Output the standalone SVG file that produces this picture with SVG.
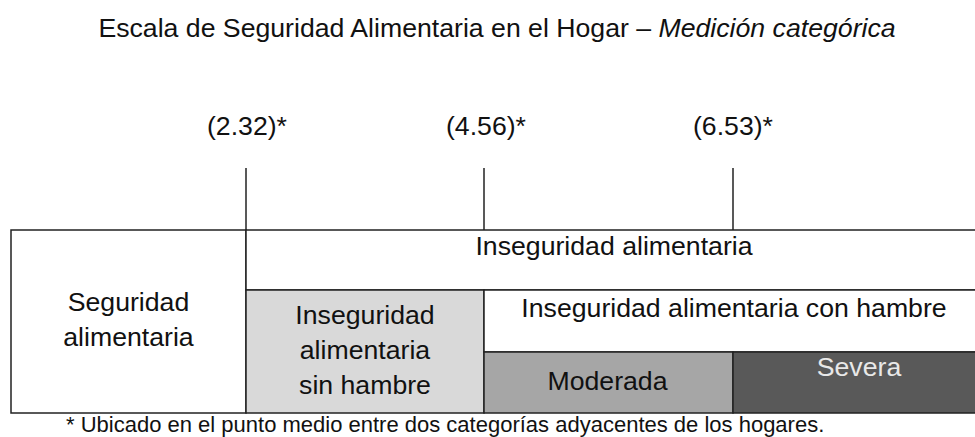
<svg xmlns="http://www.w3.org/2000/svg" width="975" height="437" viewBox="0 0 975 437">
<style>
text{font-family:"Liberation Sans",Arial,sans-serif;font-size:26.67px;fill:#111;text-anchor:middle}
.cell{stroke:#222;stroke-width:1.5}
.tick{stroke:#222;stroke-width:1.5;fill:none}
.foot{font-size:22px;text-anchor:start}
</style>
<rect width="975" height="437" fill="#fff"/>
<g id="title"><text x="497" y="37">Escala de Seguridad Alimentaria en el Hogar – <tspan font-style="italic">Medición categórica</tspan></text></g>
<g id="cutoffs">
<text x="247" y="135">(2.32)*</text>
<text x="486" y="135">(4.56)*</text>
<text x="733" y="135">(6.53)*</text>
</g>
<g id="seguridad">
<rect class="cell" x="11" y="230" width="235" height="183" fill="#fff"/>
<text x="128.5" y="310.5">Seguridad</text>
<text x="128.5" y="345.5">alimentaria</text>
</g>
<g id="inseguridad">
<rect class="cell" x="246" y="230" width="731" height="60" fill="#fff"/>
<text x="614" y="254.5">Inseguridad alimentaria</text>
</g>
<g id="sin-hambre">
<rect class="cell" x="246" y="290" width="238" height="123" fill="#d9d9d9"/>
<text x="365" y="323.5">Inseguridad</text>
<text x="365" y="358.5">alimentaria</text>
<text x="365" y="393.5">sin hambre</text>
</g>
<g id="con-hambre">
<rect class="cell" x="484" y="290" width="493" height="62" fill="#fff"/>
<text x="734" y="316.5">Inseguridad alimentaria con hambre</text>
</g>
<g id="moderada">
<rect class="cell" x="484" y="352" width="249" height="61" fill="#a6a6a6"/>
<text x="607.5" y="389.5">Moderada</text>
</g>
<g id="severa">
<rect class="cell" x="733" y="352" width="244" height="61" fill="#595959"/>
<text x="859" y="376" style="fill:#e8e8e8">Severa</text>
</g>
<g id="connectors">
<line class="tick" x1="246" y1="168" x2="246" y2="230"/>
<line class="tick" x1="484" y1="168" x2="484" y2="230"/>
<line class="tick" x1="733" y1="168" x2="733" y2="230"/>
</g>
<g id="footnote"><text class="foot" x="66" y="431.5">* Ubicado en el punto medio entre dos categorías adyacentes de los hogares.</text></g>
</svg>
